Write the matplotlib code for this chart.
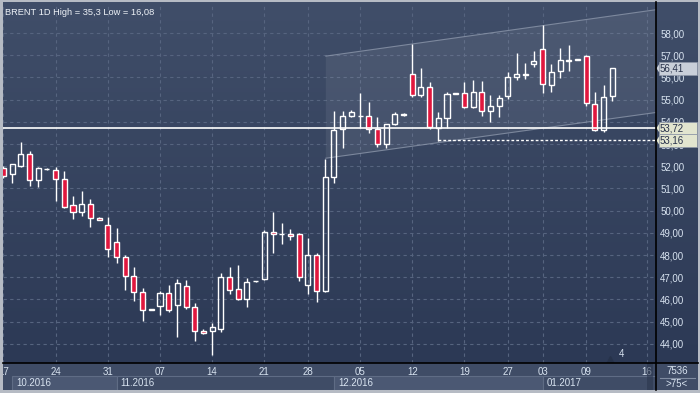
import matplotlib.pyplot as plt
import matplotlib.transforms as mtransforms
from matplotlib.lines import Line2D
from matplotlib.patches import Rectangle, Polygon
import numpy as np

plt.rcParams['font.family'] = ['Liberation Sans', 'DejaVu Sans']

W, H = 700, 393

# daily OHLC (one entry per candle, left to right)
opens = [51.92, 51.65, 52.01, 52.55, 51.38, 51.86, 51.83, 51.42, 50.25, 49.94,
         50.30, 49.67, 49.35, 48.57, 47.90, 47.04, 46.32, 45.53, 45.69, 46.28,
         45.74, 46.59, 45.65, 44.56, 44.56, 44.68, 46.99, 46.45, 46.00, 46.81,
         46.91, 49.05, 48.93, 48.93, 48.93, 46.64, 47.99, 46.39, 51.50, 53.66,
         54.25, 54.24, 54.25, 53.66, 52.99, 53.89, 54.31, 56.14, 55.22, 55.56,
         53.73, 54.16, 55.27, 55.28, 54.68, 55.34, 54.47, 54.70, 55.15, 56.00,
         56.10, 56.59, 57.27, 55.64, 56.28, 56.76, 56.79, 56.95, 54.79, 53.63,
         55.15]
highs = [52.01, 52.12, 53.09, 52.69, 51.95, 51.90, 51.96, 51.79, 50.66, 50.88,
         50.52, 49.71, 49.73, 49.22, 48.00, 47.46, 46.51, 45.56, 46.37, 46.65,
         46.92, 46.87, 45.83, 44.67, 44.92, 47.19, 47.47, 47.55, 46.96, 46.83,
         49.11, 49.94, 49.44, 49.17, 49.00, 48.78, 48.08, 52.32, 54.49, 54.50,
         54.53, 55.31, 54.89, 54.20, 53.92, 54.43, 54.38, 57.49, 56.41, 55.78,
         54.43, 55.34, 55.30, 55.78, 55.88, 55.84, 55.19, 55.19, 56.23, 57.09,
         56.64, 57.19, 58.35, 56.59, 57.31, 57.46, 56.82, 57.01, 55.34, 55.66,
         56.43]
lows = [51.47, 51.24, 51.96, 51.11, 51.06, 51.85, 50.43, 50.10, 49.62, 49.76,
        49.26, 49.56, 47.92, 47.65, 46.44, 45.94, 45.04, 45.52, 45.31, 45.43,
        44.32, 45.58, 44.14, 44.45, 43.51, 44.55, 46.23, 45.96, 45.67, 46.80,
        46.88, 48.10, 48.51, 48.69, 46.81, 46.23, 45.87, 46.35, 51.26, 52.81,
        54.23, 53.71, 53.48, 52.88, 52.81, 53.87, 54.28, 55.10, 55.10, 53.66,
        53.15, 53.73, 55.26, 54.62, 54.62, 54.27, 54.00, 54.23, 55.01, 55.87,
        55.91, 56.46, 55.29, 55.33, 55.99, 56.28, 56.78, 54.73, 53.59, 53.56,
        54.95]
closes = [51.56, 52.10, 52.55, 51.38, 51.92, 51.88, 51.42, 50.16, 49.94, 50.30,
          49.67, 49.58, 48.26, 47.90, 47.04, 46.32, 45.51, 45.55, 46.28, 45.54,
          46.73, 45.65, 44.56, 44.47, 44.74, 46.99, 46.41, 46.00, 46.77, 46.82,
          49.05, 48.93, 48.94, 48.84, 47.03, 47.99, 46.37, 51.50, 53.62, 54.25,
          54.43, 54.26, 53.66, 52.99, 53.89, 54.34, 54.33, 55.22, 55.56, 53.78,
          54.16, 55.25, 55.29, 54.65, 55.34, 54.47, 54.70, 55.06, 56.00, 56.14,
          56.14, 56.73, 55.69, 56.23, 56.77, 56.78, 56.81, 54.83, 53.63, 55.10,
          56.41]

# x axis: candle index of each day label, month blocks
day_pos = [0, 6, 12, 18, 24, 30, 35, 41, 47, 53, 58, 62, 67, 74]
day_labels = ['17', '24', '31', '07', '14', '21', '28', '05', '12', '19',
              '27', '03', '09', '16']
month_starts = [1, 13, 38, 62, 75.03]
month_labels = ['10.2016', '11.2016', '12.2016', '01.2017']
price_ticks = list(range(44, 59))

# levels and the trend channel
last_price = 56.41
support_level = 53.72
dotted_level = 53.16
dotted_from = 50
channel_x = [37.07, 75.03]
channel_upper = [56.96, 59.05]
channel_lower = [52.36, 54.42]

title = 'BRENT 1D High = 35,3 Low = 16,08'

XLIM = (-0.05, 75.03)
YLIM = (43.136, 59.352)

TXT = '#d8e3f0'
RED = '#e0173e'
GRID = '#56647f'


def fbox(x0, y0, x1, y1):
    # pixel box (top-left origin) -> figure fraction rect
    return [x0 / W, 1 - y1 / H, (x1 - x0) / W, (y1 - y0) / H]


def fpt(x, y):
    return x / W, 1 - y / H


fig = plt.figure(figsize=(W / 100, H / 100), dpi=100, facecolor='#b6bbc4')

# background gradient for chart + price column
bg = fig.add_axes(fbox(3, 2, 698, 363))
grad = np.linspace(0, 1, 256).reshape(-1, 1)
top_c = np.array([64, 78, 105]) / 255
bot_c = np.array([44, 57, 85]) / 255
img = top_c * (1 - grad[..., None]) + bot_c * grad[..., None]
bg.imshow(img, aspect='auto', extent=(0, 1, 0, 1))
bg.set_axis_off()

ax = fig.add_axes(fbox(3, 3, 656, 363))
ax.set_facecolor('none')
ax.set_xlim(*XLIM)
ax.set_ylim(*YLIM)

# grid
ax.set_yticks(price_ticks)
ax.set_yticklabels([f'{v:.2f}'.replace('.', ',') for v in price_ticks])
ax.yaxis.tick_right()
ax.tick_params(axis='y', length=0, pad=3, labelsize=7, labelcolor=TXT)
ax.set_xticks(day_pos)
ax.tick_params(axis='x', length=0, labelbottom=False)
ax.grid(True, color=GRID, lw=0.8, ls=(0, (3, 3)))
ax.set_axisbelow(True)
for s in ax.spines.values():
    s.set_visible(False)

# trend channel
chan = Polygon([(channel_x[0], channel_upper[0]), (channel_x[1], channel_upper[1]),
                (channel_x[1], channel_lower[1]), (channel_x[0], channel_lower[0])],
               closed=True, fc='white', alpha=0.07, ec='none', zorder=1)
ax.add_patch(chan)
ax.plot(channel_x, channel_upper, color='#8b96aa', lw=0.8, alpha=0.8, zorder=1.5)
ax.plot(channel_x, channel_lower, color='#8b96aa', lw=0.8, alpha=0.8, zorder=1.5)

# candles
o, h, l, c = map(np.array, (opens, highs, lows, closes))
x = np.arange(len(o))
up = c >= o
top = np.maximum(o, c)
bot = np.minimum(o, c)
body = np.maximum(top - bot, 0.02)
ax.vlines(x, top, h, color='white', lw=1.0, zorder=3)
ax.vlines(x, l, bot, color='white', lw=1.0, zorder=3)
ax.bar(x[up], body[up], bottom=bot[up], width=0.58, fc='none', ec='white',
       lw=1.0, zorder=4)
ax.bar(x[~up], body[~up], bottom=bot[~up], width=0.58, fc=RED, ec='white',
       lw=1.0, zorder=4)

# levels
ax.axhline(support_level, color='white', lw=1.2, zorder=5)
ax.hlines(dotted_level, dotted_from, XLIM[1], color='white', lw=1.0,
          ls=(0, (2, 1.5)), zorder=5)

# price tags on the right: box with a small notch pointing at the axis
trans = mtransforms.blended_transform_factory(ax.transAxes, ax.transData)
px_x = 1.0 / 653          # one pixel in axes fraction
tag_h = 0.56              # tag height in price units (~12 px)
tags = [(last_price, '#c9cfd9'), (support_level, '#e2e5cf'), (dotted_level, '#e2e5cf')]
for val, col in tags:
    x0 = 1.0 + 3 * px_x
    ax.add_patch(Rectangle((x0, val - tag_h / 2), 38 * px_x, tag_h, transform=trans,
                           fc=col, ec='#8e97a8', lw=0.5, clip_on=False, zorder=9))
    ax.add_patch(Polygon([(1.0 + 0.5 * px_x, val), (x0 + 0.3 * px_x, val + 0.2),
                          (x0 + 0.3 * px_x, val - 0.2)], closed=True, transform=trans,
                         fc=col, ec='none', clip_on=False, zorder=9.5))
    ax.text(1.0 + 4 * px_x, val, f'{val:.2f}'.replace('.', ','), transform=trans,
            fontsize=7, color='#27314a', va='center', ha='left', zorder=10,
            clip_on=False)

ax.text(0.003, 0.985, title, transform=ax.transAxes, fontsize=6.7,
        color='#eef2f7', va='top', ha='left')

# little bar-count marker
ax.plot([0.929], [0.008], marker='^', ms=6, color='#26324a', transform=ax.transAxes,
        clip_on=False, zorder=6)
ax.text(0.947, 0.012, '4', transform=ax.transAxes, fontsize=7, color=TXT,
        ha='center', va='bottom')

# date axis
axb = fig.add_axes(fbox(3, 363, 656, 390))
axb.set_facecolor('#3f4c66')
axb.set_xlim(*XLIM)
axb.set_ylim(0, 1)
axb.set_axis_off()
axb.add_patch(Rectangle((0, 0), 1, 1, transform=axb.transAxes, fc='#3f4c66',
                        ec='none', zorder=0))
for i, lab in enumerate(month_labels):
    x0, x1 = month_starts[i], month_starts[i + 1]
    fc = '#4b5873' if i % 2 == 0 else '#3f4c66'
    axb.add_patch(Rectangle((x0, 0.0), x1 - x0, 0.52, fc=fc, ec='#5f6c85', lw=0.8,
                            zorder=1))
    axb.text(x0 + 0.45, 0.25, lab, fontsize=7, color=TXT, ha='left', va='center',
             zorder=3)
for p, lab in zip(day_pos, day_labels):
    axb.text(p, 0.67, lab, fontsize=7, color=TXT, ha='center', va='center', zorder=3,
             clip_on=True)
axb.add_patch(Rectangle((74.05, 0), 0.65, 1, fc='#2a354c', ec='none', alpha=0.55,
                        zorder=4))

# price column bottom box
fig.patches.append(Rectangle(fpt(656, 390), 42 / W, 27 / H, fc='#3f4c66', ec='none',
                             transform=fig.transFigure, figure=fig))
fig.text(*fpt(677, 371), '7536', fontsize=7, color=TXT, ha='center', va='center')
fig.text(*fpt(677, 384), '>75<', fontsize=7, color=TXT, ha='center', va='center')
fig.add_artist(Line2D([660 / W, 695 / W], [1 - 377.5 / H] * 2, color='#7f8ba0', lw=0.8))

# black separators
fig.add_artist(Line2D([3 / W, 698 / W], [1 - 363 / H] * 2, color='black', lw=1.2))
fig.add_artist(Line2D([656 / W] * 2, [1 - 390 / H, 1 - 2 / H], color='black', lw=1.2))

fig.savefig('out.png', dpi=100, facecolor=fig.get_facecolor())
